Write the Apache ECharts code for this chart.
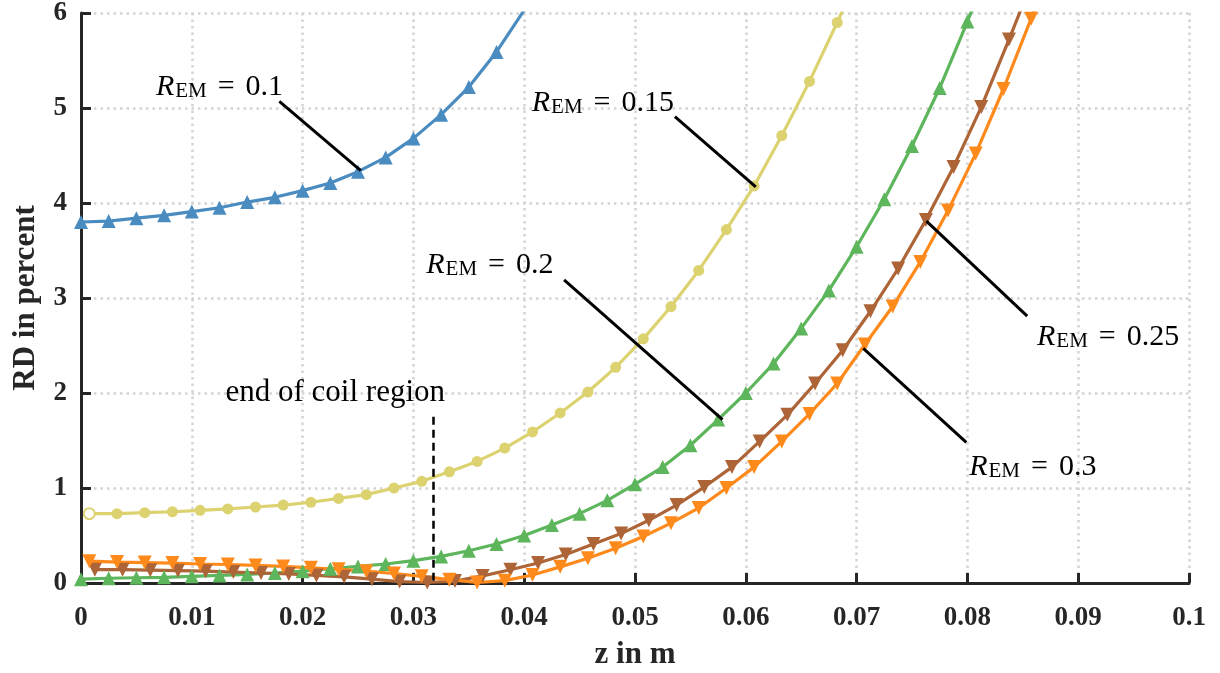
<!DOCTYPE html>
<html>
<head>
<meta charset="utf-8">
<script src="https://cdn.jsdelivr.net/npm/echarts@6/dist/echarts.min.js"></script>
<style>
  html, body { margin: 0; padding: 0; background: #fff; }
  #main { width: 1220px; height: 673px; }
</style>
</head>
<body>
<div id="main"></div>
<script>
// z positions of the markers (m)
var zStep = [0, 0.0025, 0.005, 0.0075, 0.01, 0.0125, 0.015, 0.0175, 0.02, 0.0225, 0.025, 0.0275,
  0.03, 0.0325, 0.035, 0.0375, 0.04, 0.0425, 0.045, 0.0475, 0.05, 0.0525, 0.055, 0.0575,
  0.06, 0.0625, 0.065, 0.0675, 0.07, 0.0725, 0.075, 0.0775, 0.08, 0.0825];
var zLate = [0.00075, 0.00325, 0.00575, 0.00825, 0.01075, 0.01325, 0.01575, 0.01825, 0.02075,
  0.02325, 0.02575, 0.02825, 0.03075, 0.03325, 0.03575, 0.03825, 0.04075, 0.04325, 0.04575,
  0.04825, 0.05075, 0.05325, 0.05575, 0.05825, 0.06075, 0.06325, 0.06575, 0.06825, 0.07075,
  0.07325, 0.07575, 0.07825, 0.08075, 0.08325, 0.08575, 0.08825];
var zHalf = [0.00125, 0.00375, 0.00625, 0.00875, 0.01125, 0.01375, 0.01625, 0.01875, 0.02125,
  0.02375, 0.02625, 0.02875, 0.03125, 0.03375, 0.03625, 0.03875, 0.04125, 0.04375, 0.04625,
  0.04875, 0.05125, 0.05375, 0.05625, 0.05875, 0.06125, 0.06375, 0.06625, 0.06875, 0.07125,
  0.07375, 0.07625, 0.07875, 0.08125, 0.08375, 0.08625];

// RD in percent
var rd010 = [3.80, 3.81, 3.84, 3.87, 3.91, 3.95, 4.01, 4.06, 4.13, 4.21, 4.33, 4.48, 4.68, 4.93,
  5.22, 5.59, 6.03];
var rd015 = [0.73, 0.73, 0.74, 0.75, 0.765, 0.78, 0.80, 0.82, 0.85, 0.89, 0.93, 1.0, 1.07, 1.17,
  1.28, 1.42, 1.59, 1.79, 2.01, 2.27, 2.57, 2.91, 3.29, 3.72, 4.18, 4.71, 5.28, 5.90, 6.55];
var rd020 = [0.04, 0.05, 0.055, 0.06, 0.07, 0.08, 0.09, 0.105, 0.125, 0.15, 0.175, 0.20, 0.235,
  0.28, 0.34, 0.41, 0.50, 0.61, 0.73, 0.87, 1.04, 1.22, 1.45, 1.72, 2.0, 2.31, 2.68, 3.08, 3.54,
  4.04, 4.60, 5.21, 5.91, 6.65];
var rd025 = [0.14, 0.14, 0.135, 0.13, 0.125, 0.115, 0.105, 0.095, 0.08, 0.065, 0.04, 0.015, 0.005,
  0.02, 0.075, 0.14, 0.21, 0.30, 0.41, 0.52, 0.66, 0.82, 1.01, 1.22, 1.49, 1.77, 2.10, 2.45, 2.86,
  3.31, 3.82, 4.38, 5.01, 5.72, 6.45];
var rd030 = [0.23, 0.22, 0.215, 0.21, 0.20, 0.195, 0.185, 0.175, 0.16, 0.145, 0.125, 0.10, 0.07,
  0.035, 0.005, 0.025, 0.084, 0.17, 0.26, 0.365, 0.49, 0.63, 0.79, 1.0, 1.22, 1.49, 1.78, 2.10,
  2.51, 2.91, 3.38, 3.92, 4.52, 5.20, 5.94, 6.7];

// annotations: [label, text z, text rd, leader from z, rd, leader to z, rd]
var notes = [
  ['0.1', 0.0125, 5.22, 0.0179, 5.07, 0.02525, 4.34],
  ['0.15', 0.0471, 5.05, 0.0536, 4.91, 0.0609, 4.17],
  ['0.2', 0.0369, 3.35, 0.0436, 3.19, 0.0579, 1.72],
  ['0.25', 0.0927, 2.59, 0.0854, 2.81, 0.0763, 3.81],
  ['0.3', 0.0859, 1.22, 0.0799, 1.48, 0.0706, 2.47]
];
var coilEnd = 0.0318;

function pairs(zs, vals) {
  var out = [];
  for (var i = 0; i < vals.length; i++) out.push([zs[i], vals[i]]);
  return out;
}

var serif = 'Liberation Serif';
var gridLine = { show: true, lineStyle: { color: '#d4d4d4', width: 2.5, type: [2.5, 4] } };

function curve(name, data, color, symbol, rot, size) {
  return {
    name: name, type: 'line', data: data,
    symbol: symbol, symbolSize: size, symbolRotate: rot || 0,
    showAllSymbol: true, clip: true,
    lineStyle: { color: color, width: 3.2 },
    itemStyle: { color: color },
    emphasis: { disabled: true },
    z: 3
  };
}

var series = [
  curve('0.1', pairs(zStep, rd010), '#4a8bc0', 'triangle', 0, 14),
  curve('0.15', pairs(zLate, rd015), '#dcd270', 'circle', 0, 11),
  curve('0.2', pairs(zStep, rd020), '#5db55c', 'triangle', 0, 14),
  curve('0.25', pairs(zHalf, rd025), '#ad6436', 'triangle', 180, 14),
  curve('0.3', pairs(zLate, rd030), '#ff8a1c', 'triangle', 180, 14)
];
// first marker of 0.15 is hollow
series[1].data[0] = { value: series[1].data[0], itemStyle: { color: '#fff', borderColor: '#dcd270', borderWidth: 2 } };

var leaders = notes.map(function (n) {
  return [{ coord: [n[3], n[4]] }, { coord: [n[5], n[6]] }];
});
leaders.push([{ coord: [coilEnd, 1.75], lineStyle: { type: [8, 5], width: 2.5 } }, { coord: [coilEnd, 0] }]);

var labels = notes.map(function (n) {
  return {
    coord: [n[1], n[2]], symbol: 'circle', symbolSize: 0,
    label: { show: true, position: 'inside', formatter: '{r|R}{s|EM}{e|=}{t|' + n[0] + '}' }
  };
});
labels.push({
  coord: [0.02295, 2.0], symbol: 'circle', symbolSize: 0,
  label: { show: true, position: 'inside', formatter: '{c|end of coil region}' }
});

series.push({
  type: 'line', data: [], silent: true,
  markLine: {
    silent: true, symbol: ['none', 'none'], animation: false,
    label: { show: false },
    lineStyle: { color: '#000', width: 3, type: 'solid' },
    data: leaders
  },
  markPoint: {
    silent: true, animation: false,
    data: labels,
    label: {
      color: '#000',
      rich: {
        r: { fontFamily: serif, fontStyle: 'italic', fontSize: 30, lineHeight: 30, color: '#000', padding: [0, 1, 0, 0] },
        s: { fontFamily: serif, fontSize: 21, lineHeight: 13, verticalAlign: 'bottom', color: '#000' },
        e: { fontFamily: serif, fontSize: 30, lineHeight: 30, color: '#000', padding: [0, 11, 0, 11] },
        t: { fontFamily: serif, fontSize: 30, lineHeight: 30, color: '#000' },
        c: { fontFamily: serif, fontSize: 31, lineHeight: 30, color: '#000' }
      }
    }
  }
});

var myChart = echarts.init(document.getElementById('main'), null, { renderer: 'canvas' });
myChart.setOption({
  animation: false,
  backgroundColor: '#fff',
  grid: { left: 81, right: 31, top: 13, bottom: 90, containLabel: false, outerBoundsMode: 'none' },
  xAxis: {
    type: 'value', min: 0, max: 0.1, interval: 0.01,
    name: 'z in m', nameLocation: 'middle', nameGap: 56,
    nameTextStyle: { fontFamily: serif, fontWeight: 'bold', fontSize: 31, color: '#262626' },
    axisLine: { lineStyle: { color: '#262626', width: 3 } },
    axisTick: { inside: true, length: 10, lineStyle: { color: '#262626', width: 3 } },
    axisLabel: { margin: 22, fontFamily: serif, fontWeight: 'bold', fontSize: 27, color: '#262626' },
    splitLine: gridLine
  },
  yAxis: {
    type: 'value', min: 0, max: 6, interval: 1,
    name: 'RD in percent', nameLocation: 'middle', nameGap: 40,
    nameTextStyle: { fontFamily: serif, fontWeight: 'bold', fontSize: 31, color: '#262626' },
    axisLine: { show: true, lineStyle: { color: '#262626', width: 3 } },
    axisTick: { show: true, inside: true, length: 10, lineStyle: { color: '#262626', width: 3 } },
    axisLabel: { margin: 14, fontFamily: serif, fontWeight: 'bold', fontSize: 27, color: '#262626' },
    splitLine: gridLine
  },
  series: series
});
</script>
</body>
</html>
